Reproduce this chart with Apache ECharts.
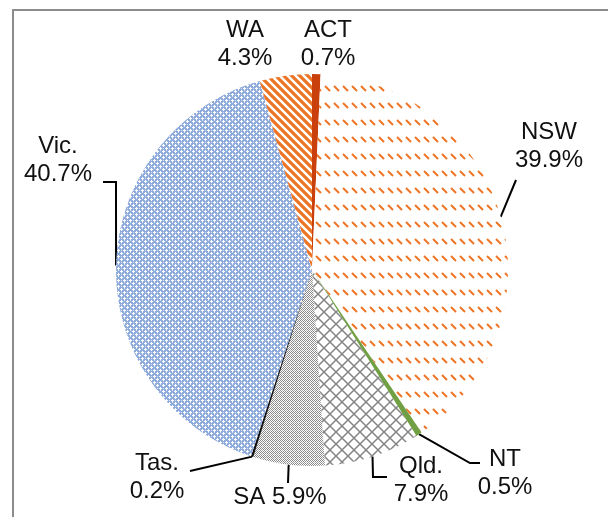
<!DOCTYPE html>
<html lang="en">
<head>
<meta charset="UTF-8">
<title>State shares pie</title>
<script src="https://cdn.jsdelivr.net/npm/echarts@6/dist/echarts.min.js"></script>
<style>
  html, body { margin: 0; padding: 0; background: #fff; }
</style>
</head>
<body>
<div id="main" style="width: 608px;height:517px;"></div>
<script>
  const categories = ['ACT', 'NSW', 'NT', 'Qld.', 'SA', 'Tas.', 'Vic.', 'WA'];
  const shares = [0.7, 39.9, 0.5, 7.9, 5.9, 0.2, 40.7, 4.3];

  // small canvas tiles to mimic the Excel fill patterns
  function tile(w, h, draw) {
    const c = document.createElement('canvas');
    c.width = w; c.height = h;
    const ctx = c.getContext('2d');
    ctx.fillStyle = '#fff';
    ctx.fillRect(0, 0, w, h);
    draw(ctx);
    return { image: c, repeat: 'repeat' };
  }

  const orange = '#EE7425';
  const fills = {
    'ACT': '#C9400C',
    'NSW': tile(9, 17, ctx => {
      ctx.strokeStyle = orange; ctx.lineWidth = 2;
      ctx.beginPath(); ctx.moveTo(1, 1); ctx.lineTo(6, 6); ctx.stroke();
    }),
    'NT': '#70A043',
    'Qld.': tile(12, 12, ctx => {
      ctx.strokeStyle = '#848484'; ctx.lineWidth = 1.5;
      ctx.beginPath();
      ctx.moveTo(0, 0); ctx.lineTo(12, 12);
      ctx.moveTo(12, 0); ctx.lineTo(0, 12);
      ctx.stroke();
    }),
    'SA': tile(4, 4, ctx => {
      ctx.fillStyle = '#8a8a8a';
      ctx.fillRect(0, 0, 1, 1); ctx.fillRect(1, 1, 1, 1);
      ctx.fillRect(2, 0, 1, 1); ctx.fillRect(3, 1, 1, 1);
      ctx.fillRect(0, 2, 1, 1); ctx.fillRect(1, 3, 1, 1);
      ctx.fillRect(3, 3, 1, 1);
      ctx.fillStyle = '#b0b0b0';
      ctx.fillRect(2, 2, 1, 1);
    }),
    'Tas.': '#111',
    'Vic.': tile(6, 6, ctx => {
      ctx.fillStyle = '#8FABDC'; ctx.fillRect(0, 0, 6, 6);
      ctx.fillStyle = '#fff';
      ctx.fillRect(1, 0, 1, 3); ctx.fillRect(0, 1, 3, 1);
      ctx.fillRect(4, 3, 1, 3); ctx.fillRect(3, 4, 3, 1);
      ctx.fillStyle = '#d3dff3';
      ctx.fillRect(4, 0, 1, 1); ctx.fillRect(1, 4, 1, 1);
    }),
    'WA': tile(8, 8, ctx => {
      ctx.strokeStyle = orange; ctx.lineWidth = 3.2;
      ctx.beginPath();
      ctx.moveTo(-2, -2); ctx.lineTo(10, 10);
      ctx.moveTo(-10, -2); ctx.lineTo(2, 10);
      ctx.moveTo(6, -2); ctx.lineTo(18, 10);
      ctx.stroke();
    })
  };

  // where each label sits, and the elbow of its leader line
  const labelSpots = {
    'ACT': { x: 328, y: 44 },
    'NSW': { x: 549, y: 146, line: [[516, 180]] },
    'NT': { x: 505, y: 473, line: [[470, 463], [480, 463]] },
    'Qld.': { x: 421, y: 480, line: [[373, 477], [387, 477]] },
    'SA': { x: 280, y: 497, line: [[288, 483]] },
    'Tas.': { x: 157, y: 477, line: [[190, 471]] },
    'Vic.': { x: 58, y: 160, line: [[116, 182], [103, 182]] },
    'WA': { x: 245, y: 44 }
  };

  const myChart = echarts.init(document.getElementById('main'));
  const option = {
    animation: false,
    textStyle: { fontFamily: 'Liberation Sans, Arial, sans-serif' },
    graphic: [{
      type: 'rect',
      shape: { x: 13, y: 10, width: 640, height: 560 },
      style: { fill: null, stroke: '#8c8c8c', lineWidth: 2 },
      silent: true
    }],
    series: [{
      type: 'pie',
      center: [312, 270],
      radius: 196,
      startAngle: 90,
      clockwise: true,
      avoidLabelOverlap: false,
      itemStyle: { borderWidth: 0 },
      label: {
        show: true,
        position: 'outside',
        color: '#111',
        fontSize: 24,
        lineHeight: 28,
        fontFamily: 'Liberation Sans, Arial, sans-serif',
        formatter: p => p.name === 'SA' ? p.name + ' ' + p.value + '%' : p.name + '\n' + p.value + '%'
      },
      labelLine: {
        show: true,
        length: 10,
        length2: 10,
        lineStyle: { color: '#000', width: 2 }
      },
      labelLayout: params => {
        const s = labelSpots[categories[params.dataIndex]];
        const out = { x: s.x, y: s.y, align: 'center', verticalAlign: 'middle' };
        if (s.line && params.labelLinePoints) {
          out.labelLinePoints = [params.labelLinePoints[0]].concat(s.line);
        }
        return out;
      },
      data: categories.map((name, i) => ({
        name: name,
        value: shares[i],
        itemStyle: { color: fills[name] },
        labelLine: { show: !!labelSpots[name].line }
      }))
    }]
  };
  myChart.setOption(option);
</script>
</body>
</html>
